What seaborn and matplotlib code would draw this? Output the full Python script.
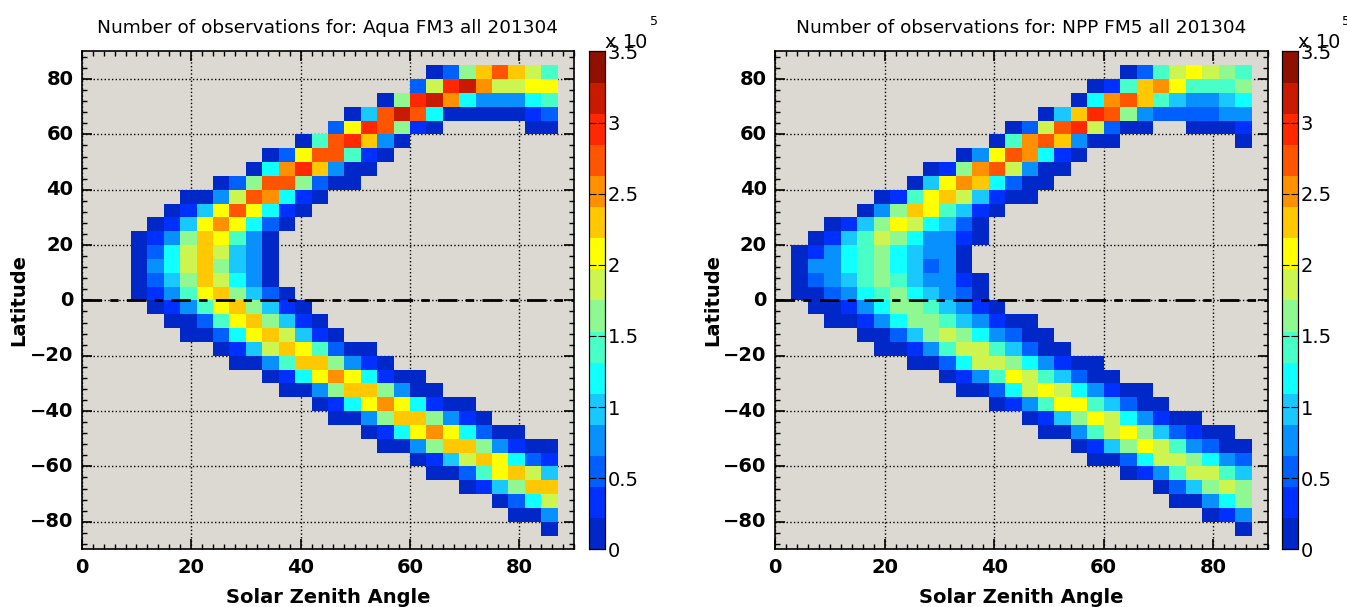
import numpy as np
import pandas as pd
import seaborn as sns
import matplotlib.pyplot as plt
from matplotlib.colors import ListedColormap

# bins: solar zenith angle 3 deg, latitude 5 deg
sza_left = np.arange(0, 90, 3)
lat_bottom = np.arange(85, -95, -5)       # rows top -> bottom
lat_rows = list(range(80, -90, -5))       # rows that hold data

# counts in units of 1e5, each row starts at the given SZA
aqua_start = [63, 60, 54, 48, 45, 39, 33, 30, 24, 18, 15, 12, 9, 9, 9, 9, 9,
              12, 15, 18, 24, 27, 33, 36, 42, 45, 51, 54, 60, 63, 69, 75, 78, 84]
aqua_rows = [
    [0.1, 0.55, 1.64, 2.3, 2.73, 2.3, 1.86, 1.42],
    [0.55, 1.86, 2.95, 3.17, 2.52, 1.86, 1.86, 2.08, 2.08],
    [0.1, 1.64, 2.95, 3.17, 2.52, 1.2, 0.77, 0.77, 0.77, 1.2, 1.42],
    [0.1, 0.98, 2.73, 3.17, 2.73, 1.2, 0.1, 0.1, 0.1, 0.1, 0.1, 0.33, 0.55],
    [0.55, 2.08, 2.95, 2.73, 1.64, 0.33, 0.1, np.nan, np.nan, np.nan, np.nan, np.nan, 0.1, 0.1],
    [0.1, 1.42, 2.73, 2.95, 2.3, 0.77, 0.1],
    [0.1, 0.55, 2.08, 2.73, 2.73, 1.42, 0.33, 0.1],
    [0.1, 1.2, 2.52, 2.95, 2.3, 0.77, 0.1, 0.1],
    [0.1, 0.55, 1.64, 2.73, 2.73, 1.64, 0.55, 0.1, 0.1],
    [0.1, 0.1, 0.77, 1.86, 2.73, 2.52, 1.2, 0.33, 0.1],
    [0.1, 0.33, 0.98, 2.08, 2.73, 2.08, 1.2, 0.33, 0.1],
    [0.1, 0.33, 0.98, 2.08, 2.52, 2.08, 1.2, 0.55, 0.1],
    [0.1, 0.33, 0.77, 1.64, 2.3, 2.08, 1.42, 0.77, 0.1],
    [0.1, 0.55, 1.2, 1.86, 2.3, 1.86, 0.98, 0.77, 0.1],
    [0.1, 0.77, 1.2, 1.86, 2.3, 1.64, 0.98, 0.77, 0.1],
    [0.1, 0.55, 0.98, 1.64, 2.3, 1.86, 1.2, 0.77, 0.1],
    [0.1, 0.33, 0.77, 1.42, 2.08, 2.3, 1.64, 0.98, 0.55, 0.1],
    [0.1, 0.33, 0.77, 1.42, 2.08, 2.3, 1.64, 0.98, 0.33, 0.1],
    [0.1, 0.1, 0.55, 1.42, 2.08, 2.3, 1.64, 0.98, 0.33, 0.1],
    [0.1, 0.1, 0.55, 1.2, 2.08, 2.3, 1.86, 0.98, 0.33, 0.1],
    [0.1, 0.33, 0.98, 1.86, 2.3, 2.08, 1.42, 0.55, 0.1, 0.1],
    [0.1, 0.1, 0.77, 1.42, 2.3, 2.3, 1.64, 0.77, 0.33, 0.1],
    [0.1, 0.33, 1.2, 2.08, 2.52, 2.08, 1.2, 0.33, 0.1, 0.1],
    [0.1, 0.1, 0.77, 1.64, 2.3, 2.3, 1.64, 0.77, 0.1, 0.1],
    [0.1, 0.33, 1.2, 2.08, 2.52, 2.08, 1.2, 0.33, 0.1, 0.1],
    [0.1, 0.1, 0.77, 1.64, 2.3, 2.3, 1.64, 0.77, 0.33, 0.1],
    [0.1, 0.33, 1.2, 2.08, 2.52, 2.08, 1.2, 0.55, 0.1, 0.1],
    [0.1, 0.1, 0.77, 1.64, 2.3, 2.3, 1.64, 0.77, 0.33, 0.1, 0.1],
    [0.1, 0.33, 0.98, 1.86, 2.3, 2.08, 1.2, 0.55, 0.33],
    [0.1, 0.1, 0.55, 1.42, 2.08, 2.3, 1.86, 0.98],
    [0.1, 0.33, 0.98, 1.64, 2.3, 2.3],
    [0.1, 0.55, 1.2, 1.86],
    [0.1, 0.1, 0.77],
    [0.1],
]

npp_start = [63, 57, 54, 48, 42, 39, 33, 27, 24, 18, 15, 9, 6, 3, 3, 3, 3,
             6, 9, 15, 18, 24, 30, 33, 39, 45, 48, 54, 57, 63, 69, 72, 78, 84]
npp_rows = [
    [0.1, 0.55, 1.42, 1.86, 2.08, 1.86, 1.64, 1.42],
    [0.1, 0.33, 1.42, 2.3, 2.52, 2.08, 1.42, 1.42, 1.42, 1.64],
    [0.1, 1.2, 2.52, 2.73, 2.3, 1.42, 0.98, 0.77, 0.77, 0.98, 1.2],
    [0.1, 0.98, 2.3, 2.95, 2.73, 1.64, 0.77, 0.55, 0.55, 0.55, 0.55, 0.77, 0.77],
    [0.1, 0.55, 1.86, 2.73, 2.95, 1.86, 0.55, 0.1, 0.1, np.nan, np.nan, 0.1, 0.1, 0.1, 0.33],
    [0.1, 1.42, 2.52, 2.73, 2.3, 0.77, 0.1, 0.1, np.nan, np.nan, np.nan, np.nan, np.nan, np.nan, np.nan, 0.1],
    [0.1, 0.77, 2.08, 2.73, 2.52, 1.2, 0.33, 0.1],
    [0.1, 0.33, 1.64, 2.52, 2.73, 1.86, 0.77, 0.1, 0.1],
    [0.1, 0.98, 2.08, 2.52, 2.3, 1.2, 0.55, 0.1, 0.1],
    [0.1, 0.33, 1.42, 2.08, 2.3, 1.86, 0.98, 0.33, 0.1, 0.1],
    [0.1, 0.77, 1.64, 2.3, 2.08, 1.42, 0.98, 0.33, 0.1],
    [0.1, 0.33, 0.98, 1.64, 2.08, 1.86, 1.2, 0.98, 0.55, 0.1],
    [0.1, 0.33, 0.98, 1.42, 1.86, 1.64, 1.2, 0.77, 0.77, 0.33, 0.1],
    [0.1, 0.33, 0.77, 1.2, 1.42, 1.64, 1.2, 0.98, 0.77, 0.77, 0.1],
    [0.1, 0.77, 0.77, 1.2, 1.42, 1.64, 1.2, 0.98, 0.55, 0.77, 0.1],
    [0.1, 0.55, 0.77, 0.98, 1.42, 1.64, 1.42, 0.98, 0.77, 0.77, 0.33, 0.1],
    [0.1, 0.1, 0.55, 0.77, 1.2, 1.42, 1.64, 1.2, 0.98, 0.77, 0.55, 0.1],
    [0.1, 0.1, 0.33, 0.77, 1.2, 1.64, 1.64, 1.42, 0.98, 0.77, 0.33, 0.1],
    [0.1, 0.1, 0.33, 0.77, 1.2, 1.64, 1.64, 1.42, 0.98, 0.77, 0.33, 0.1, 0.1],
    [0.1, 0.1, 0.55, 0.98, 1.64, 1.86, 1.64, 1.2, 0.77, 0.55, 0.1, 0.1],
    [0.1, 0.1, 0.33, 0.77, 1.42, 1.86, 1.86, 1.42, 0.98, 0.55, 0.1, 0.1],
    [0.1, 0.1, 0.55, 1.2, 1.86, 1.86, 1.64, 1.2, 0.77, 0.33, 0.1, 0.1],
    [0.1, 0.33, 0.77, 1.42, 2.08, 1.86, 1.42, 0.98, 0.55, 0.1, 0.1],
    [0.1, 0.1, 0.55, 1.2, 1.86, 2.08, 1.86, 1.2, 0.77, 0.33, 0.1, 0.1],
    [0.1, 0.33, 0.77, 1.42, 2.08, 2.08, 1.42, 0.98, 0.55, 0.1, 0.1],
    [0.1, 0.33, 0.98, 1.64, 2.08, 1.86, 1.2, 0.77, 0.33, 0.1, 0.1],
    [0.1, 0.1, 0.77, 1.42, 1.86, 2.08, 1.64, 0.98, 0.55, 0.33, 0.1, 0.1],
    [0.1, 0.33, 0.98, 1.64, 2.08, 1.86, 1.42, 0.77, 0.55, 0.1, 0.1],
    [0.1, 0.1, 0.55, 1.2, 1.86, 1.86, 1.64, 1.2, 0.77, 0.55],
    [0.1, 0.33, 0.77, 1.42, 1.86, 1.86, 1.42, 0.98],
    [0.1, 0.55, 0.98, 1.64, 1.86, 1.64],
    [0.1, 0.1, 0.77, 1.2, 1.64],
    [0.1, 0.33, 0.77],
    [0.1],
]

cbar_ticks = [0, 0.5, 1, 1.5, 2, 2.5, 3, 3.5]
cbar_labels = ['0', '0.5', '1', '1.5', '2', '2.5', '3', '3.5']

jet16 = ['#0028c8', '#0030ff', '#0060ff', '#0890ff', '#18c8ff', '#10ffff',
         '#48ffc8', '#90f890', '#ccf550', '#ffff00', '#ffc800', '#ff9000',
         '#ff5500', '#ff2800', '#c81a00', '#901000']
cmap = ListedColormap(jet16)
bg = '#dcd8d2'


def build_grid(starts, rows):
    grid = pd.DataFrame(np.nan, index=lat_bottom, columns=sza_left)
    for lat, s, vals in zip(lat_rows, starts, rows):
        for k, v in enumerate(vals):
            grid.loc[lat, s + 3 * k] = v
    return grid


# heatmap cells are unit steps; map data values onto them
def sza_pos(a):
    return a / 3.0


def lat_pos(lat):
    return (90 - lat) / 5.0


fig = plt.figure(figsize=(13.47, 6.07), dpi=100)

panels = [
    ('Aqua FM3', aqua_start, aqua_rows, [0.0607, 0.0949, 0.3655, 0.8204], [0.4373, 0.0949, 0.0119, 0.8204], 0.449, 0.4826),
    ('NPP FM5', npp_start, npp_rows, [0.5754, 0.0949, 0.366, 0.8204], [0.9518, 0.0949, 0.0119, 0.8204], 0.9636, 0.9963),
]

for name, starts, rows, pos, cpos, xt, x5 in panels:
    grid = build_grid(starts, rows)
    ax = fig.add_axes(pos)
    cax = fig.add_axes(cpos)
    ax.set_facecolor(bg)
    sns.heatmap(grid, ax=ax, cbar_ax=cax, cmap=cmap, vmin=0, vmax=3.5,
                mask=grid.isna(), linewidths=0)

    for sp in ax.spines.values():
        sp.set_visible(True)
        sp.set_color('black')
        sp.set_linewidth(1.2)

    xmaj = list(range(0, 81, 20))
    ymaj = list(range(-80, 81, 20))
    ax.set_xticks([sza_pos(a) for a in xmaj])
    ax.set_xticklabels([str(a) for a in xmaj], rotation=0)
    ax.set_xticks([sza_pos(a) for a in range(0, 91, 2)], minor=True)
    ax.set_yticks([lat_pos(l) for l in ymaj])
    ax.set_yticklabels([str(l).replace('-', '\u2212') for l in ymaj], rotation=0)
    ax.set_yticks([lat_pos(l) for l in range(-88, 90, 4)], minor=True)
    ax.set_xlim(sza_pos(0), sza_pos(90))
    ax.set_ylim(lat_pos(-90), lat_pos(90))

    ax.tick_params(which='both', direction='in', top=True, right=True,
                   bottom=True, left=True, color='black')
    ax.tick_params(which='major', length=7, width=1.2, labelsize=14, pad=6)
    ax.tick_params(which='minor', length=3.5, width=1)
    for lab in ax.get_xticklabels() + ax.get_yticklabels():
        lab.set_fontweight('bold')

    ax.set_axisbelow(True)
    ax.grid(True, which='major', linestyle=':', color='black', linewidth=1)
    ax.axhline(lat_pos(0), color='black', linewidth=2,
               linestyle=(0, (7, 3, 3, 3)), zorder=5)

    ax.set_xlabel('Solar Zenith Angle', fontsize=14, fontweight='bold', labelpad=8)
    ax.set_ylabel('Latitude', fontsize=14, fontweight='bold', labelpad=1)
    ax.set_title(f'Number of observations for: {name} all 201304', fontsize=13.3, pad=13)

    cax.set_yticks(cbar_ticks)
    cax.set_yticklabels(cbar_labels)
    cax.tick_params(direction='in', left=True, right=True, length=5,
                    labelsize=14, pad=2)
    for sp in cax.spines.values():
        sp.set_visible(True)
        sp.set_linewidth(0.8)

    fig.text(xt, 0.921, 'x 10', fontsize=14, va='baseline')
    fig.text(x5, 0.959, '5', fontsize=9, va='baseline')

fig.savefig('out.png', dpi=100)
